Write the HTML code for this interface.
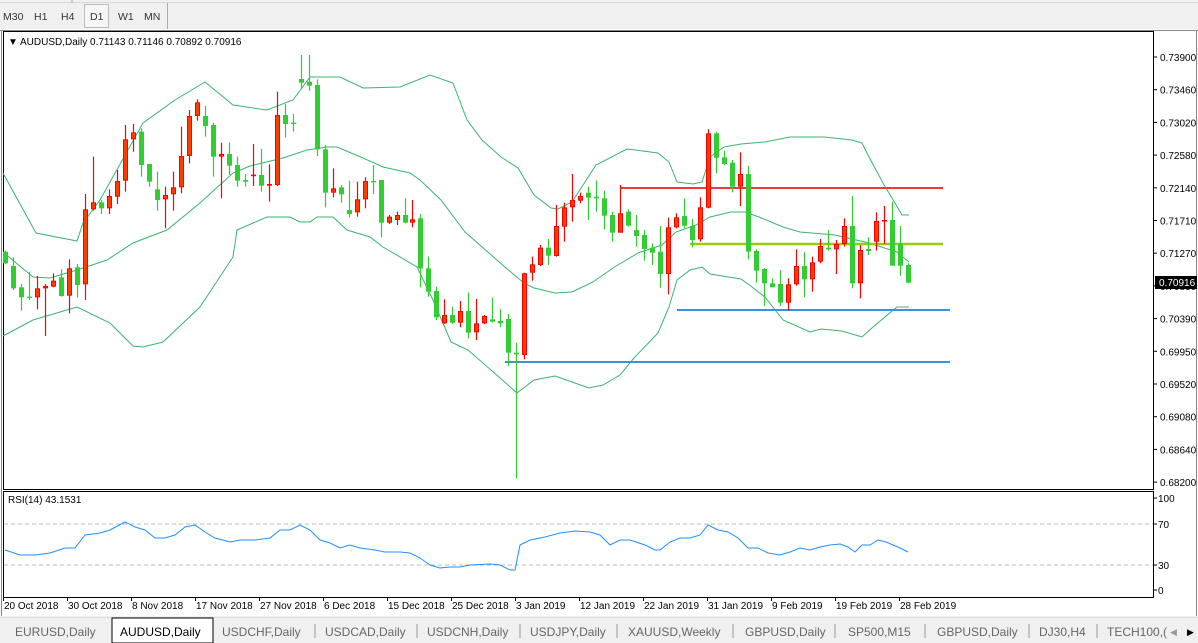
<!DOCTYPE html>
<html><head><meta charset="utf-8"><style>
html,body{margin:0;padding:0;background:#fff;}
svg{display:block;font-family:"Liberation Sans",Tahoma,sans-serif;}
</style></head><body>
<svg id="s" width="1198" height="643" viewBox="0 0 1198 643" xmlns="http://www.w3.org/2000/svg">
<rect x="0" y="0" width="1198" height="643" fill="#fff"/>
<!-- toolbar -->
<rect x="0" y="0" width="1198" height="29" fill="#f0f0f0"/>
<line x1="0" y1="2.5" x2="1198" y2="2.5" stroke="#d8d8d8"/>
<line x1="72" y1="0" x2="72" y2="3" stroke="#aaa"/>
<rect x="84.5" y="4.5" width="24" height="23" fill="#f6f6f6" stroke="#bbb"/>
<line x1="167.5" y1="3" x2="167.5" y2="29" stroke="#aaa"/>
<g font-size="10.5" fill="#333">
<text x="3" y="20">M30</text><text x="34" y="20">H1</text><text x="61" y="20">H4</text>
<text x="90" y="20">D1</text><text x="118" y="20">W1</text><text x="144" y="20">MN</text>
</g>
<!-- chart frame -->
<rect x="3.5" y="31.5" width="1150" height="458" fill="#fff" stroke="#000"/>
<rect x="3.5" y="491.5" width="1150" height="106" fill="#fff" stroke="#000"/>
<line x1="1.5" y1="30" x2="1.5" y2="616" stroke="#888"/>
<line x1="1196.5" y1="30" x2="1196.5" y2="616" stroke="#888"/>
<line x1="0" y1="30.5" x2="1198" y2="30.5" stroke="#888"/>
<text x="8" y="45" font-size="10" fill="#000">▼</text>
<text x="20" y="45" font-size="10" fill="#000">AUDUSD,Daily  0.71143 0.71146 0.70892 0.70916</text>
<g id="ax" font-size="10" fill="#000"></g>
<g id="bands" fill="none" stroke="#3cb371" stroke-width="1"></g>
<!-- horizontal lines -->
<line x1="620" y1="188" x2="943" y2="188" stroke="#f03a3a" stroke-width="2"/>
<line x1="690" y1="244" x2="943" y2="244" stroke="#9acd00" stroke-width="2.5"/>
<line x1="677" y1="310" x2="950" y2="310" stroke="#3a8fe0" stroke-width="2"/>
<line x1="505" y1="362" x2="950" y2="362" stroke="#3a8fe0" stroke-width="2"/>
<g id="candles"></g>
<!-- price box -->
<rect x="1155" y="276" width="42" height="13" fill="#000"/>
<text x="1159" y="286" font-size="10" fill="#fff">0.70916</text>
<!-- RSI -->
<text x="8" y="503" font-size="10" fill="#000">RSI(14) 43.1531</text>
<line x1="4" y1="524" x2="1153" y2="524" stroke="#bbb" stroke-dasharray="4,3"/>
<line x1="4" y1="565" x2="1153" y2="565" stroke="#bbb" stroke-dasharray="4,3"/>
<g font-size="10" fill="#000">
<text x="1158" y="502">100</text><text x="1158" y="528">70</text><text x="1158" y="569">30</text><text x="1158" y="594">0</text>
</g>
<g stroke="#000"><line x1="1154" y1="498" x2="1157" y2="498"/><line x1="1154" y1="524" x2="1157" y2="524"/><line x1="1154" y1="565" x2="1157" y2="565"/><line x1="1154" y1="590" x2="1157" y2="590"/></g>
<polyline id="rsi" fill="none" stroke="#1e90ff" stroke-width="1"/>
<g id="dates" font-size="10" fill="#000"></g>
<!-- tabs -->
<rect x="0" y="616" width="1198" height="27" fill="#f0f0f0"/>
<line x1="0" y1="617.5" x2="1198" y2="617.5" stroke="#ddd"/>
<rect x="112" y="618" width="101" height="25" fill="#fff" stroke="#000"/>
<g font-size="12" fill="#666">
<text x="15" y="636">EURUSD,Daily</text>
<text x="120" y="636" fill="#000">AUDUSD,Daily</text>
<text x="222" y="636">USDCHF,Daily</text>
<text x="325" y="636">USDCAD,Daily</text>
<text x="427" y="636">USDCNH,Daily</text>
<text x="530" y="636">USDJPY,Daily</text>
<text x="628" y="636">XAUUSD,Weekly</text>
<text x="745" y="636">GBPUSD,Daily</text>
<text x="848" y="636">SP500,M15</text>
<text x="937" y="636">GBPUSD,Daily</text>
<text x="1039" y="636">DJ30,H4</text>
<text x="1107" y="636">TECH100,(</text>
</g>
<g stroke="#999"><line x1="315" y1="624" x2="315" y2="638"/><line x1="417" y1="624" x2="417" y2="638"/><line x1="520" y1="624" x2="520" y2="638"/><line x1="617" y1="624" x2="617" y2="638"/><line x1="733" y1="624" x2="733" y2="638"/><line x1="835" y1="624" x2="835" y2="638"/><line x1="925" y1="624" x2="925" y2="638"/><line x1="1029" y1="624" x2="1029" y2="638"/><line x1="1097" y1="624" x2="1097" y2="638"/></g>
<text x="1170" y="635" font-size="9" fill="#999">◀</text>
<text x="1187" y="635" font-size="9" fill="#000">▶</text>
</svg>
<script>
var NS="http://www.w3.org/2000/svg";
function el(p,t,a,txt){var e=document.createElementNS(NS,t);for(var k in a)e.setAttribute(k,a[k]);if(txt!=null)e.textContent=txt;document.getElementById(p).appendChild(e);return e;}
// price axis
var labs=["0.73900","0.73460","0.73020","0.72580","0.72140","0.71710","0.71270","0.70830","0.70390","0.69950","0.69520","0.69080","0.68640","0.68200"];
for(var i=0;i<labs.length;i++){var y=57+i*32.7;el("ax","text",{x:1160,y:(y+4).toFixed(1)},labs[i]);el("ax","line",{x1:1154,y1:y,x2:1157,y2:y,stroke:"#000"});}
// candles [type,bt,bb,wt,wb] zoom coords
var A=[["g",635,670,632,672],["g",678,745,652,750],["g",742,772,732,812],["g",770,774,695,780],["r",745,772,708,808],["r",738,745,732,888],["r",722,740,700,742],["g",712,768,688,770],["r",685,767,658,820],["g",682,735,672,772],["r",508,733,462,780],["r",487,508,350,512],["g",487,505,480,522],["r",468,505,448,522],["r",423,470,390,492],["r",298,422,255,455],["r",277,298,252,335],["g",275,375,265,410],["g",372,425,372,440],["g",448,480,395,512],["r",465,478,440,565],["r",442,463,395,512],["r",348,442,260,460],["r",228,348,210,370],["r",187,228,178,242],["g",228,258,198,290],["g",255,350,248,410],["r",342,350,308,475],["g",342,377,308,405],["g",375,422,350,440],["g",420,425,402,440],["r",404,408,312,438],["g",405,437,327,455],["r",432,437,373,485],["r",225,435,155,438],["g",225,252,192,292],["g",248,252,222,275],["g",117,128,45,148],["g",125,137,45,152],["g",135,328,118,348],["g",328,458,315,502],["r",445,458,385,472],["g",442,463,435,488],["g",510,522,422,532],["r",478,517,425,530],["r",423,478,412,505],["g",423,427,375,462],["g",420,548,420,592],["r",530,548,525,552],["r",525,540,515,555],["g",525,548,475,550],["r",538,548,480,562]];
var B=[["g",295,445,282,502],["g",445,515,410,530],["g",513,592,500,600],["r",585,610,538,612],["g",585,608,560,612],["r",573,608,543,622],["g",573,638,518,655],["r",610,637,537,660],["r",588,610,585,612],["g",598,605,533,608],["g",603,610,567,622],["g",597,698,582,738],["g",698,703,668,1075],["r",460,705,458,718],["r",433,458,410,482],["r",383,435,375,438],["g",383,407,357,435],["r",318,408,255,410],["r",262,320,248,365],["r",240,262,162,305],["r",228,242,218,250],["g",218,233,200,300],["g",230,235,182,275],["g",235,287,212,328],["g",285,338,275,365],["r",280,338,195,338],["g",275,317,268,320],["g",330,348,285,380],["g",345,387,330,422],["g",383,398,370,435],["g",395,462,318,503],["r",322,462,293,523],["r",292,322,280,325],["g",288,317,235,325],["g",318,360,297,382],["r",262,358,232,365],["r",40,263,28,265],["g",40,113,35,160],["g",112,132,92,135],["g",128,200,120,217],["r",162,200,97,258],["g",162,395,138,418],["g",393,452,388,488],["g",447,490,444,558],["g",490,502,475,502],["g",492,548,450,558],["r",493,548,475,572],["r",438,493,388,497],["g",438,478,397,532],["r",427,478,410,515],["r",378,425,357,430],["g",383,388,330,392],["r",372,388,360,462],["r",318,372,295,380],["g",318,490,228,505],["r",390,490,375,535],["g",387,393,352,405],["r",303,365,277,392],["r",300,303,258,372],["g",300,437,245,437],["g",370,437,318,467],["g",435,488,430,490]];
var C=[];A.forEach(function(c){C.push([c[0],40+c[1]/3,40+c[2]/3,40+c[3]/3,40+c[4]/3]);});
B.forEach(function(c){C.push([c[0],120+c[1]/3,120+c[2]/3,120+c[3]/3,120+c[4]/3]);});
C.forEach(function(c,i){var x=Math.round(5+7.99*i)+0.5;var col=c[0]=="g"?"#32cd32":"#ff0000";
el("candles","line",{x1:x,y1:c[3],x2:x,y2:c[4],stroke:col,"stroke-width":1.2});
var h=Math.max(c[2]-c[1],1.2);
if(c[0]=="g")el("candles","rect",{x:x-2.5,y:c[1],width:5,height:h,fill:"#32cd32"});
else el("candles","rect",{x:x-2,y:c[1]+0.5,width:4,height:Math.max(h-1,0.5),fill:"#ff3c00",stroke:"#ff0000","stroke-width":1});});
// bands
var up=[[3,173],[36,233],[77,241],[83,223],[100,200],[143,123],[175,100],[205,82],[233,105],[267,110],[293,100],[310,77],[340,77],[363,88],[400,87],[430,75],[453,83],[467,120],[482,140],[501,157],[518,168],[534,195],[551,208],[558,209],[572,202],[596,165],[627,149],[658,153],[669,162],[677,182],[693,184],[702,182],[710,157],[724,147],[741,144],[765,142],[790,137],[824,137],[852,140],[862,143],[869,157],[883,183],[895,203],[902,215],[909,215]];
var mid=[[3,252],[33,277],[50,278],[77,270],[83,268],[107,260],[133,243],[167,230],[200,203],[233,173],[250,166],[283,158],[307,150],[327,147],[337,147],[363,158],[383,167],[410,173],[420,180],[441,200],[465,232],[489,253],[506,268],[524,283],[534,288],[555,293],[572,292],[593,282],[613,268],[638,253],[662,245],[676,232],[696,225],[710,217],[731,212],[745,212],[759,217],[783,227],[800,232],[835,235],[869,243],[897,252],[909,262]];
var lo=[[3,336],[33,320],[77,307],[110,323],[133,346],[143,347],[163,342],[200,307],[233,257],[237,230],[267,217],[290,217],[300,222],[310,222],[317,217],[333,217],[347,230],[370,237],[383,247],[417,267],[433,300],[451,342],[468,350],[499,377],[517,393],[534,380],[555,376],[572,382],[589,388],[603,385],[620,375],[634,358],[658,333],[669,307],[677,280],[690,270],[702,267],[710,274],[741,279],[752,287],[765,297],[783,320],[810,332],[821,329],[842,331],[862,337],[873,327],[897,307],[909,307]];
[up,mid,lo].forEach(function(a){el("bands","polyline",{points:a.map(function(p){return p.join(",");}).join(" ")});});
// rsi
var r=[[5,550],[20,555],[35,555],[50,553],[65,548],[75,548],[85,535],[100,533],[110,530],[125,522],[135,527],[145,530],[155,538],[165,538],[175,535],[185,527],[195,525],[205,532],[215,538],[230,542],[240,540],[255,540],[270,538],[280,530],[290,530],[300,525],[310,530],[320,540],[330,543],[340,548],[350,545],[360,548],[375,550],[385,552],[400,552],[410,553],[420,558],[430,565],[440,568],[450,567],[460,567],[470,565],[490,564],[500,565],[510,570],[515,570],[520,545],[530,540],[545,537],[560,533],[575,531],[590,532],[600,535],[610,545],[620,540],[630,540],[645,545],[655,550],[660,550],[670,542],[680,538],[690,538],[700,535],[708,525],[718,530],[728,532],[738,538],[748,548],[758,548],[768,553],[780,555],[790,552],[800,548],[810,550],[820,547],[830,545],[840,544],[848,547],[855,552],[862,545],[870,545],[878,540],[886,542],[893,545],[900,548],[908,552]];
document.getElementById("rsi").setAttribute("points",r.map(function(p){return p.join(",");}).join(" "));
// dates
var d=[["20 Oct 2018",3],["30 Oct 2018",67],["8 Nov 2018",131],["17 Nov 2018",195],["27 Nov 2018",259],["6 Dec 2018",323],["15 Dec 2018",387],["25 Dec 2018",451],["3 Jan 2019",515],["12 Jan 2019",579],["22 Jan 2019",643],["31 Jan 2019",707],["9 Feb 2019",771],["19 Feb 2019",835],["28 Feb 2019",899]];
d.forEach(function(a){el("dates","text",{x:a[1]+1,y:609},a[0]);el("dates","line",{x1:a[1]+0.5,y1:597,x2:a[1]+0.5,y2:601,stroke:"#000"});});
</script>
</body></html>
